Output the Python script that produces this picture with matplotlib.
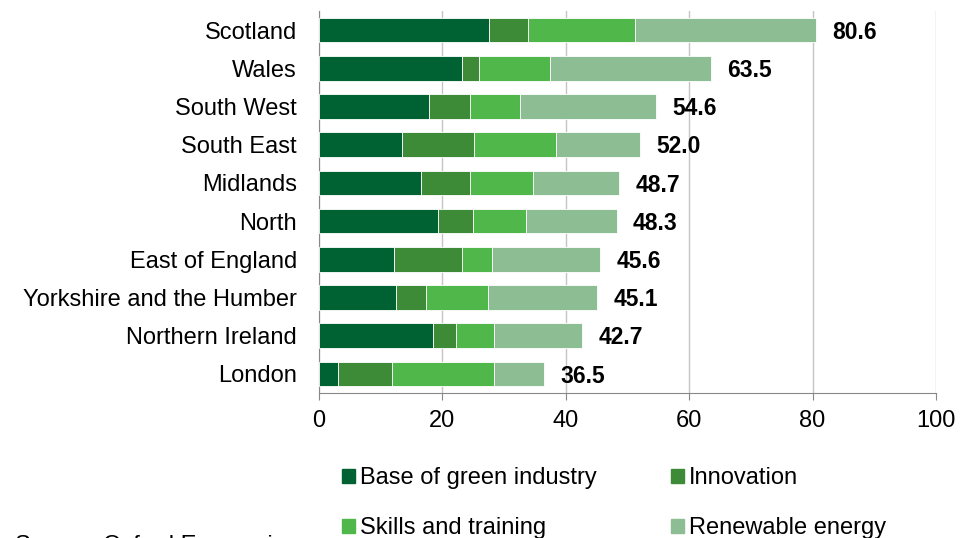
import matplotlib.pyplot as plt
from matplotlib.patches import Patch

plt.rcParams['font.family'] = ['Liberation Sans', 'DejaVu Sans']

regions = ['Scotland', 'Wales', 'South West', 'South East', 'Midlands', 'North',
           'East of England', 'Yorkshire and the Humber', 'Northern Ireland', 'London']
base = [27.6, 23.1, 17.9, 13.5, 16.6, 19.3, 12.2, 12.5, 18.5, 3.1]
innovation = [6.2, 2.9, 6.5, 11.7, 7.8, 5.7, 10.9, 4.8, 3.7, 8.7]
skills = [17.4, 11.4, 8.2, 13.2, 10.3, 8.5, 5.0, 10.1, 6.1, 16.5]
renewable = [29.4, 26.1, 22.0, 13.6, 14.0, 14.8, 17.5, 17.7, 14.4, 8.2]
totals = [80.6, 63.5, 54.6, 52.0, 48.7, 48.3, 45.6, 45.1, 42.7, 36.5]

series = ['Base of green industry', 'Innovation', 'Skills and training', 'Renewable energy']
colors = ['#006233', '#3d8a37', '#50b74a', '#8dbd92']
fs = 17

fig = plt.figure(figsize=(9.64, 5.38), dpi=100)
ax = fig.add_axes([319 / 964, 1 - 393 / 538, (936 - 319) / 964, (393 - 11) / 538])

y = list(range(len(regions)))
left = [0.0] * len(regions)
for vals, name, c in zip([base, innovation, skills, renewable], series, colors):
    ax.barh(y, vals, left=left, height=0.64, color=c, edgecolor='white',
            linewidth=0.6, label=name, zorder=3)
    left = [l + v for l, v in zip(left, vals)]

for i, t in enumerate(totals):
    ax.text(t + 2.6, i + 0.06, f'{t:.1f}', va='center', ha='left',
            fontsize=16.5, fontweight='bold', color='black')

ax.set_yticks(y)
ax.set_yticklabels(regions, fontsize=fs)
ax.set_ylim(len(regions) - 0.5, -0.5)
ax.set_xlim(0, 100)
ax.set_xticks([0, 20, 40, 60, 80, 100])
ax.tick_params(axis='x', labelsize=fs, length=5, color='#888888', pad=7)
ax.tick_params(axis='y', length=0, pad=16)
ax.grid(axis='x', color='#c8c4c4', linewidth=1, zorder=0)
for s in ['top', 'right']:
    ax.spines[s].set_visible(False)
ax.spines['left'].set_color('#888888')
ax.spines['bottom'].set_color('#888888')

# two legend columns, placed separately
handles = [Patch(color=c) for c in colors]
for col, x0 in [(0, 342), (1, 671)]:
    fig.legend([handles[col], handles[col + 2]], [series[col], series[col + 2]],
               loc='upper left', bbox_to_anchor=(x0 / 964, 1 - 467 / 538),
               frameon=False, fontsize=fs, handlelength=0.55, handleheight=0.55,
               handletextpad=0.2, labelspacing=1.2, borderpad=0, borderaxespad=0)

fig.text(15 / 964, 1 - 552 / 538, 'Source: Oxford Economics', fontsize=fs, va='baseline')

fig.savefig('out.png', dpi=100)
